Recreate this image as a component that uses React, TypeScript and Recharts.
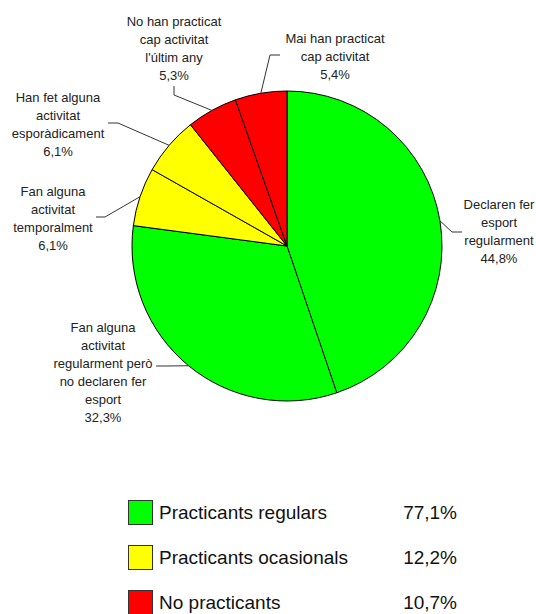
import { PieChart, Pie, Cell, Legend } from "recharts";

// slices, clockwise from 12 o'clock
const categories = [
  ["Declaren fer", "esport", "regularment"],
  ["Fan alguna", "activitat", "regularment però", "no declaren fer", "esport"],
  ["Fan alguna", "activitat", "temporalment"],
  ["Han fet alguna", "activitat", "esporàdicament"],
  ["No han practicat", "cap activitat", "l'últim any"],
  ["Mai han practicat", "cap activitat"],
];
const values = [44.8, 32.3, 6.1, 6.1, 5.3, 5.4];
const sliceColors = ["#00ff00", "#00ff00", "#ffff00", "#ffff00", "#ff0000", "#ff0000"];

const groups = ["Practicants regulars", "Practicants ocasionals", "No practicants"];
const groupValues = [77.1, 12.2, 10.7];
const groupColors = ["#00ff00", "#ffff00", "#ff0000"];

// label placement (text centre of first line + leader elbow/end)
const labelLayout = [
  { tx: 499, ty: 204, elbow: [452, 232], end: [462, 232] },
  { tx: 103, ty: 327, elbow: [166, 366], end: [156, 366] },
  { tx: 53, ty: 191, elbow: [105, 217], end: [96, 217] },
  { tx: 58, ty: 97, elbow: [118, 123], end: [108, 123] },
  { tx: 174, ty: 21, elbow: [174, 95], end: [174, 86] },
  { tx: 335, ty: 38, elbow: [270, 55], end: [280, 55] },
];

const data = categories.map((c, i) => ({ name: c.join(" "), value: values[i] }));

const fmt = (v: number) => `${v.toFixed(1).replace(".", ",")}%`;
const RAD = Math.PI / 180;
const FONT = "'Liberation Sans', Arial, sans-serif";

function renderLabel(props: any) {
  const { cx, cy, midAngle, outerRadius, index } = props;
  const lay = labelLayout[index];
  const sx = cx + outerRadius * Math.cos(-midAngle * RAD);
  const sy = cy + outerRadius * Math.sin(-midAngle * RAD);
  const lines = [...categories[index], fmt(values[index])];
  return (
    <g key={`lbl-${index}`}>
      <polyline
        points={`${sx},${sy} ${lay.elbow[0]},${lay.elbow[1]} ${lay.end[0]},${lay.end[1]}`}
        fill="none"
        stroke="#333"
        strokeWidth={1}
      />
      {lines.map((t, j) => (
        <text
          key={j}
          x={lay.tx}
          y={lay.ty + j * 18}
          textAnchor="middle"
          dominantBaseline="central"
          fontFamily={FONT}
          fontSize={13}
          fill="#222"
        >
          {t}
        </text>
      ))}
    </g>
  );
}

function renderLegend() {
  return (
    <div style={{ fontFamily: FONT, fontSize: 19, color: "#111" }}>
      {groups.map((g, i) => (
        <div
          key={g}
          style={{ display: "flex", alignItems: "center", height: 45 }}
        >
          <div
            style={{
              width: 23,
              height: 23,
              background: groupColors[i],
              border: "1px solid #333",
              marginRight: 6,
            }}
          />
          <div style={{ width: 230 }}>{g}</div>
          <div style={{ width: 68, textAlign: "right" }}>{fmt(groupValues[i])}</div>
        </div>
      ))}
    </div>
  );
}

export default function App() {
  return (
    <div style={{ position: "absolute", left: 0, top: 0, width: 536, height: 614, background: "#fff" }}>
      <PieChart width={536} height={614} margin={{ top: 0, right: 0, bottom: 0, left: 0 }}>
        <Pie
          data={data}
          dataKey="value"
          cx={287}
          cy={246}
          outerRadius={155}
          startAngle={90}
          endAngle={-270}
          stroke="#000"
          strokeWidth={1}
          label={renderLabel}
          labelLine={false}
          isAnimationActive={false}
        >
          {data.map((d, i) => (
            <Cell key={d.name} fill={sliceColors[i]} />
          ))}
        </Pie>
        <Legend
          content={renderLegend}
          wrapperStyle={{ position: "absolute", left: 128, top: 490, width: "auto" }}
        />
      </PieChart>
    </div>
  );
}
